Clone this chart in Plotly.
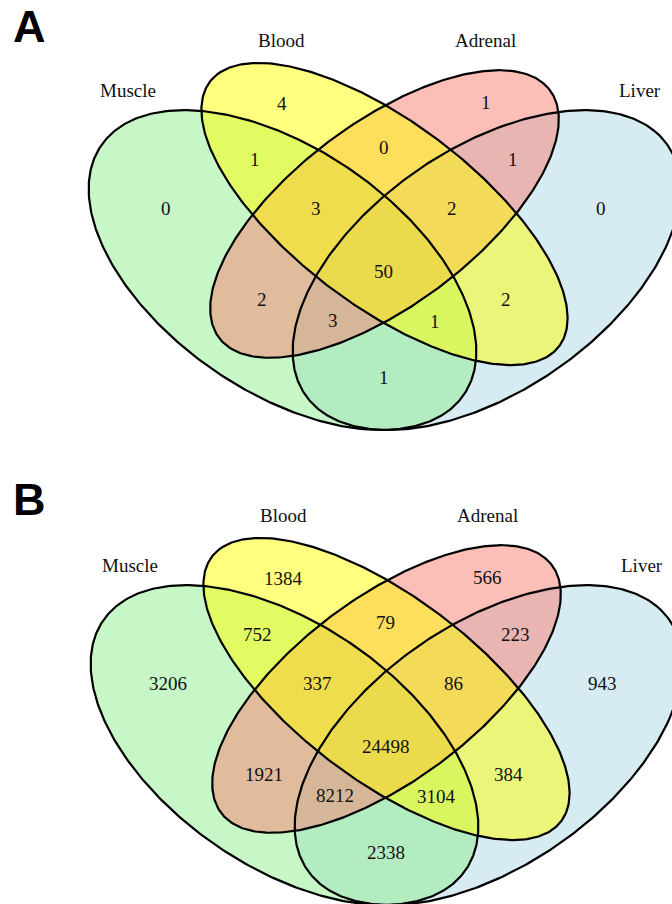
import numpy as np
import plotly.graph_objects as go

# ---------------- data ----------------
categories = ["Muscle", "Blood", "Adrenal", "Liver"]
region_keys = ["M", "B", "A", "L", "MB", "BA", "AL", "MBA", "BAL", "MBAL",
               "MA", "BL", "MAL", "MBL", "ML"]
counts_A = [0, 4, 1, 0, 1, 0, 1, 3, 2, 50, 2, 2, 3, 1, 1]
counts_B = [3206, 1384, 566, 943, 752, 79, 223, 337, 86, 24498, 1921, 384, 8212, 3104, 2338]
panel_names = ["A", "B"]

# ---------------- layout geometry (Venn unit coordinates) ----------------
# ellipse: centre x, centre y, semi-major a, semi-minor b, rotation (deg)
ellipse_geom = {
    "Muscle":  (0.35, 0.47, 0.35, 0.20, 135),
    "Blood":   (0.50, 0.57, 0.35, 0.15, 135),
    "Adrenal": (0.50, 0.57, 0.33, 0.15, 45),
    "Liver":   (0.65, 0.47, 0.35, 0.20, 45),
}
fill_colors = {
    "Muscle": "rgba(144,238,144,0.5)",
    "Blood": "rgba(255,255,0,0.5)",
    "Adrenal": "rgba(250,128,114,0.5)",
    "Liver": "rgba(173,216,230,0.5)",
}
draw_order = ["Liver", "Muscle", "Adrenal", "Blood"]

label_pos = {
    "M": (0.179, 0.580), "B": (0.349, 0.767), "A": (0.649, 0.768), "L": (0.818, 0.579),
    "MB": (0.310, 0.668), "BA": (0.499, 0.689), "AL": (0.689, 0.668),
    "MBA": (0.399, 0.580), "BAL": (0.599, 0.579), "MBAL": (0.499, 0.468),
    "MA": (0.320, 0.418), "BL": (0.679, 0.418), "MAL": (0.424, 0.380),
    "MBL": (0.574, 0.379), "ML": (0.499, 0.279),
}
cat_pos = {
    "Muscle": (0.123, 0.791), "Blood": (0.349, 0.879),
    "Adrenal": (0.649, 0.879), "Liver": (0.876, 0.791),
}

# unit -> pixel mapping per panel
SX, SY = 680.0, 561.0
panel_offsets = [(384.5, 214.0), (386.5, 689.0)]
letter_pos = [(29, 26.5), (29, 499)]


def to_px(u, v, off):
    ox, oy = off
    return ox + (np.asarray(u) - 0.5) * SX, oy - (np.asarray(v) - 0.57) * SY


def ellipse_uv(cx, cy, a, b, rot, n=400):
    t = np.linspace(0, 2 * np.pi, n)
    th = np.deg2rad(rot)
    x = cx + a * np.cos(t) * np.cos(th) - b * np.sin(t) * np.sin(th)
    y = cy + a * np.cos(t) * np.sin(th) + b * np.sin(t) * np.cos(th)
    return x, y


fig = go.Figure()
annotations = []
serif = "Liberation Serif, Times New Roman, serif"

for pi, (pname, counts) in enumerate(zip(panel_names, [counts_A, counts_B])):
    off = panel_offsets[pi]
    # fills
    for cat in draw_order:
        u, v = ellipse_uv(*ellipse_geom[cat])
        x, y = to_px(u, v, off)
        fig.add_trace(go.Scatter(x=x, y=y, mode="lines", fill="toself",
                                 fillcolor=fill_colors[cat], line=dict(width=0),
                                 hoverinfo="skip", showlegend=False))
    # outlines
    for cat in draw_order:
        u, v = ellipse_uv(*ellipse_geom[cat])
        x, y = to_px(u, v, off)
        fig.add_trace(go.Scatter(x=x, y=y, mode="lines",
                                 line=dict(color="black", width=2.2),
                                 hoverinfo="skip", showlegend=False))
    # region counts
    for key, val in zip(region_keys, counts):
        u, v = label_pos[key]
        x, y = to_px(u, v, off)
        annotations.append(dict(x=float(x), y=float(y), xref="x", yref="y",
                                text=str(val), showarrow=False,
                                xanchor="center", yanchor="middle",
                                font=dict(family=serif, size=19, color="#111111")))
    # category names
    for cat in categories:
        u, v = cat_pos[cat]
        x, y = to_px(u, v, off)
        annotations.append(dict(x=float(x), y=float(y), xref="x", yref="y",
                                text=cat, showarrow=False,
                                xanchor="center", yanchor="middle",
                                font=dict(family=serif, size=19, color="#111111")))
    # panel letter
    lx, ly = letter_pos[pi]
    annotations.append(dict(x=lx, y=ly, xref="x", yref="y", text="<b>%s</b>" % pname,
                            showarrow=False, xanchor="center", yanchor="middle",
                            font=dict(family="Liberation Sans, Arial, sans-serif",
                                      size=45, color="black")))

fig.update_layout(
    width=672, height=904,
    margin=dict(l=0, r=0, t=0, b=0),
    paper_bgcolor="white", plot_bgcolor="white",
    xaxis=dict(range=[0, 672], visible=False, fixedrange=True),
    yaxis=dict(range=[904, 0], visible=False, fixedrange=True),
    annotations=annotations,
    showlegend=False,
)

fig.write_html("out.html",
               config={"displayModeBar": False},
               post_script="document.body.style.margin='0';document.body.style.overflow='hidden';")
